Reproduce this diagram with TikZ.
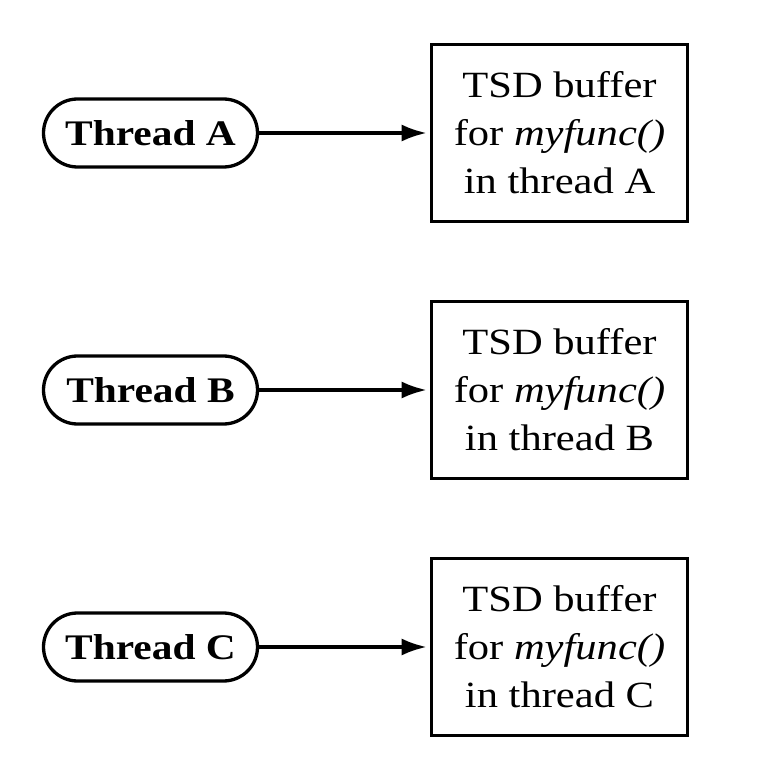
\documentclass[tikz,border=0pt]{standalone}
\usepackage{fontspec}
\setmainfont{Liberation Serif}[FakeStretch=1.15]
\usetikzlibrary{arrows.meta}
\begin{document}
\begin{tikzpicture}[x=1pt,y=-1pt,
  thread/.style={draw, line width=3.3pt, rounded corners=34pt, minimum width=214pt, minimum height=68pt, inner sep=0pt, font=\fontsize{36}{42}\selectfont\bfseries},
  buf/.style={draw, line width=3.6pt, minimum width=256pt, minimum height=177pt, inner sep=0pt, align=center, font=\fontsize{37}{48}\selectfont},
  conn/.style={line width=3.3pt, shorten >=3pt, -{Latex[length=25pt,width=17pt]}}]
\useasboundingbox (0,0) rectangle (764,762);
\node[thread] (ta) at (150.5,133) {Thread A};
\node[thread] (tb) at (150.5,390) {Thread B};
\node[thread] (tc) at (150.5,647) {Thread C};
\node[buf] (ba) at (559.5,133) {TSD buffer\\for \textit{myfunc()}\\in thread A};
\node[buf] (bb) at (559.5,390) {TSD buffer\\for \textit{myfunc()}\\in thread B};
\node[buf] (bc) at (559.5,647) {TSD buffer\\for \textit{myfunc()}\\in thread C};
\draw[conn] (ta) -- (ba);
\draw[conn] (tb) -- (bb);
\draw[conn] (tc) -- (bc);
\end{tikzpicture}
\end{document}
